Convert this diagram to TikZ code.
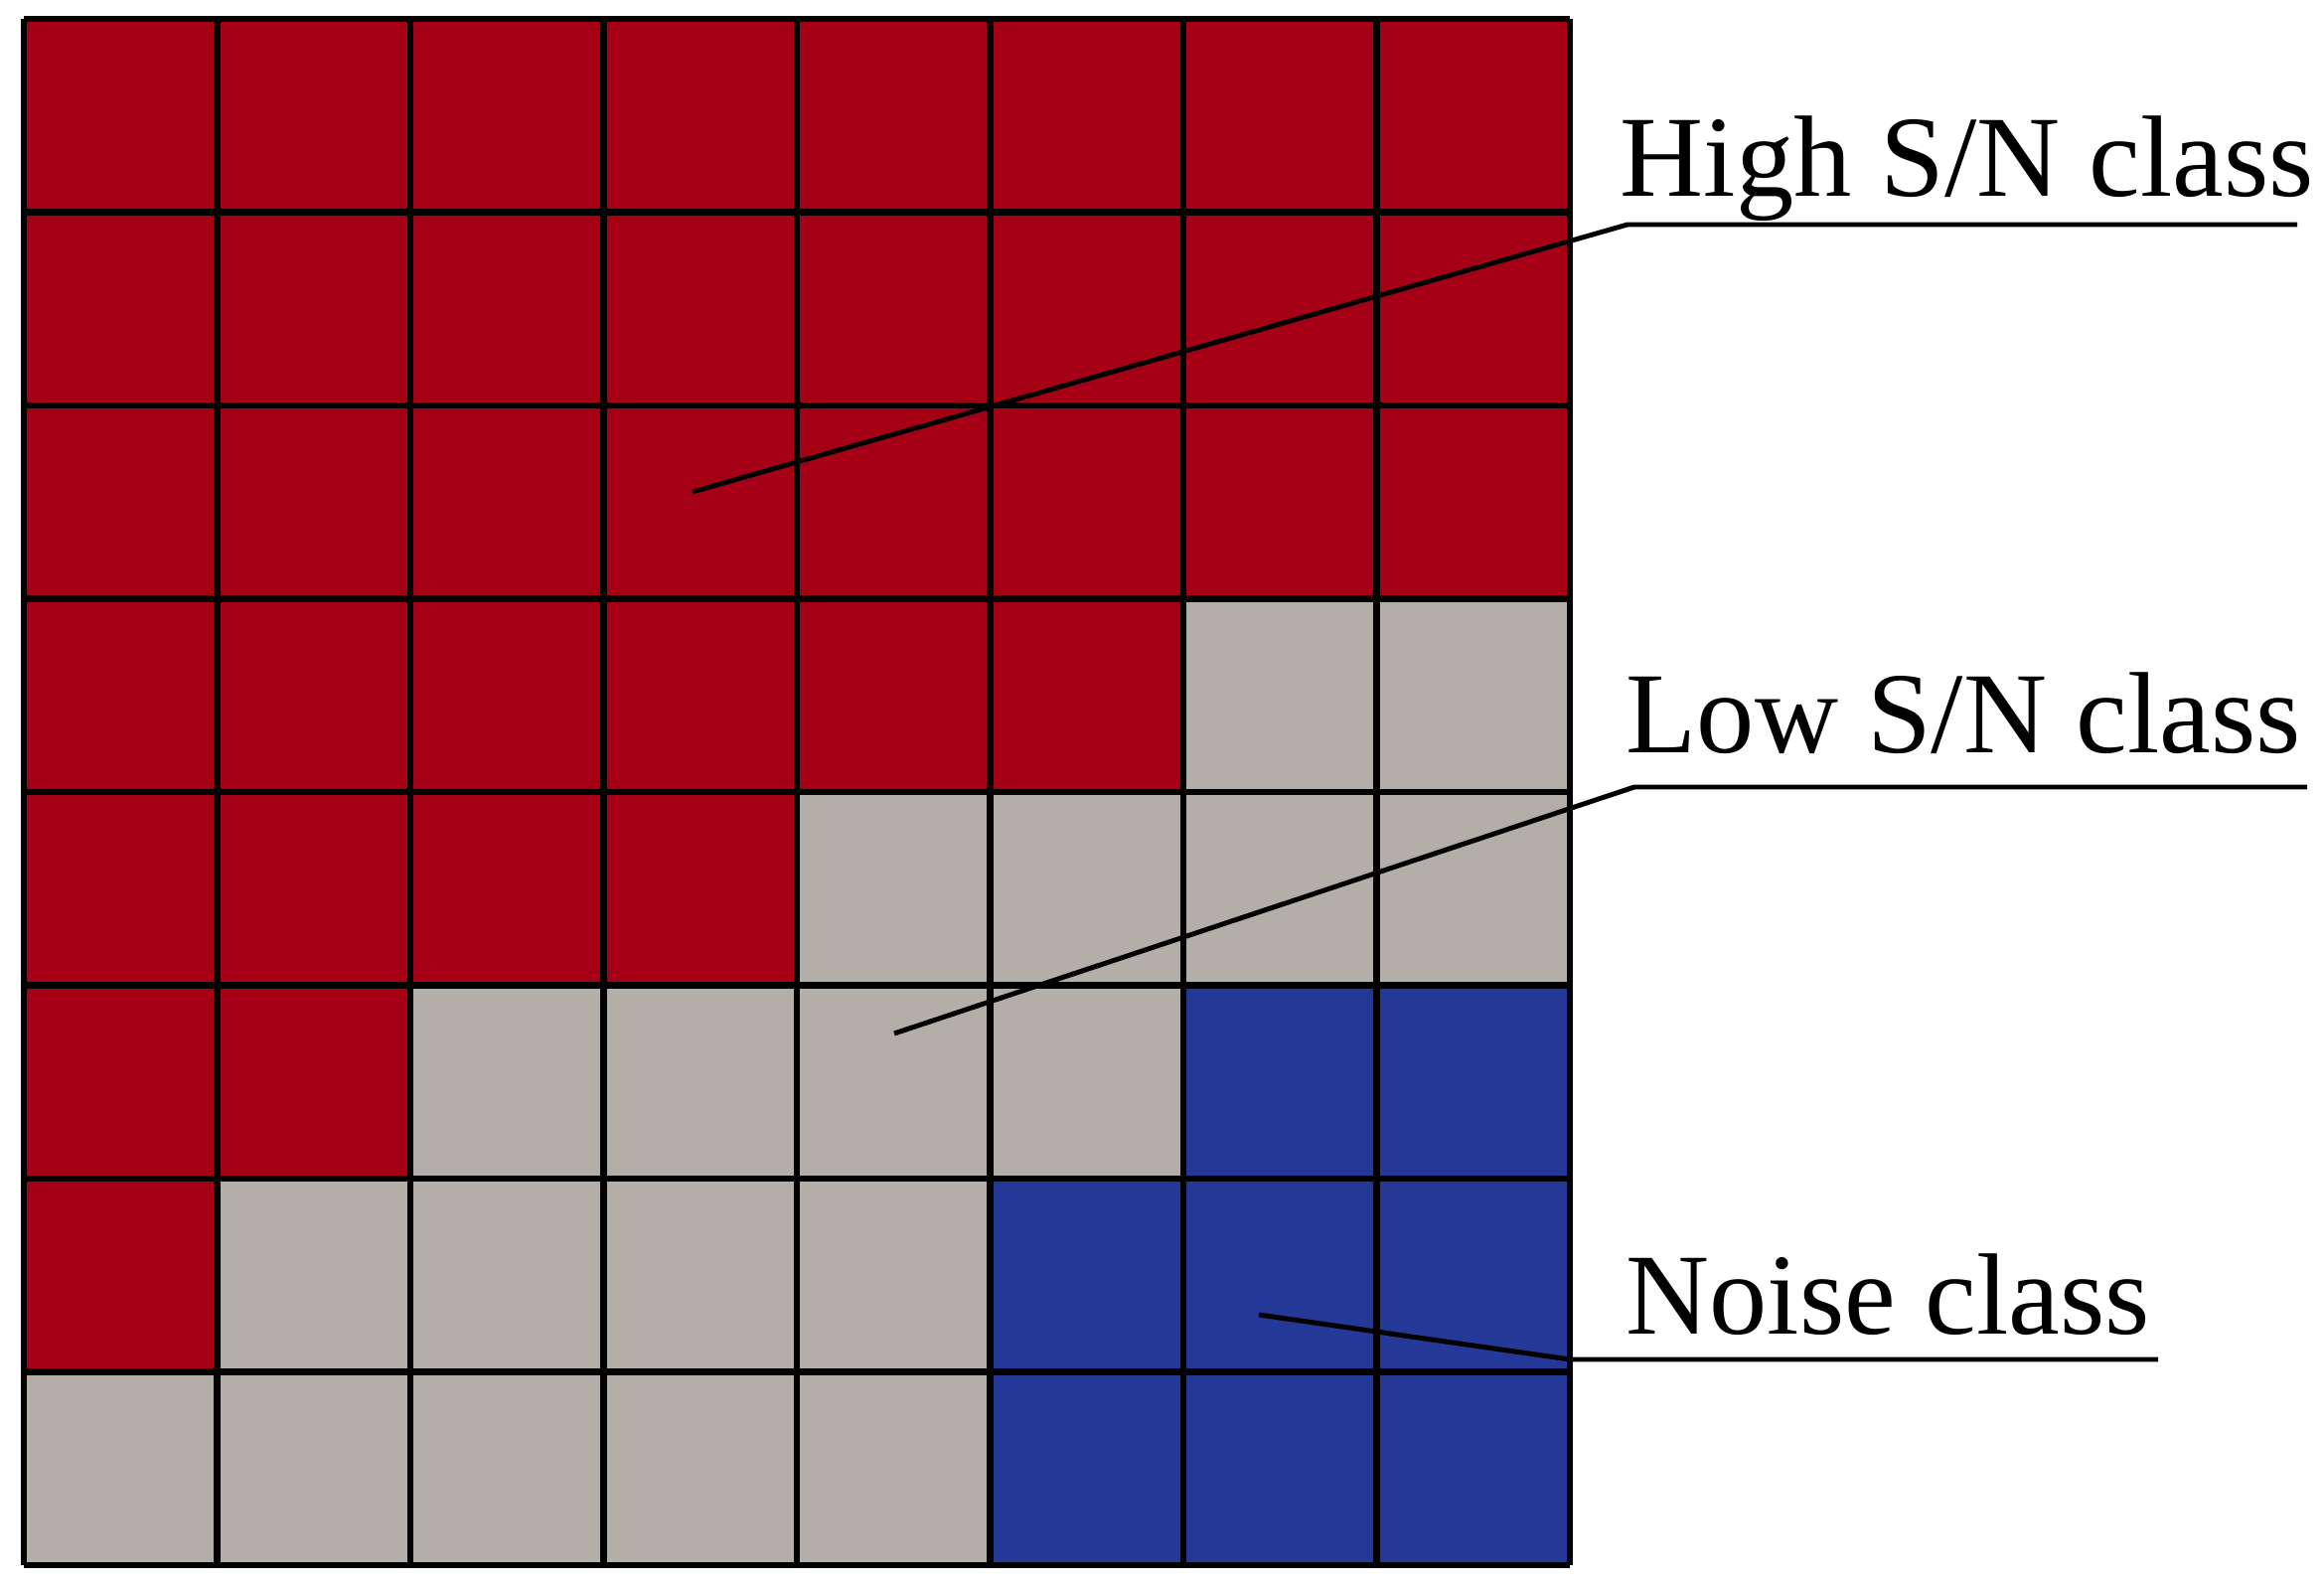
\documentclass[tikz,border=0pt]{standalone}
\usepackage{fontspec}
\setmainfont{Liberation Serif}
\definecolor{hired}{HTML}{A50016}
\definecolor{lowgray}{HTML}{B3AFA8}
\definecolor{noiseblue}{HTML}{243898}
\tikzset{
  gridline/.style={line width=1.8pt, black},
  leader/.style={line width=1.4pt, black},
  classlabel/.style={anchor=base west, inner sep=0pt, font=\fontsize{33.1pt}{36pt}\selectfont}
}
\begin{document}
\begin{tikzpicture}[x=0.01cm,y=-0.01cm]
\useasboundingbox (0,0) rectangle (2339,1598);
\def\cs{194.5}
\foreach \r/\c/\col in {
 0/0/hired,0/1/hired,0/2/hired,0/3/hired,0/4/hired,0/5/hired,0/6/hired,0/7/hired,
 1/0/hired,1/1/hired,1/2/hired,1/3/hired,1/4/hired,1/5/hired,1/6/hired,1/7/hired,
 2/0/hired,2/1/hired,2/2/hired,2/3/hired,2/4/hired,2/5/hired,2/6/hired,2/7/hired,
 3/0/hired,3/1/hired,3/2/hired,3/3/hired,3/4/hired,3/5/hired,3/6/lowgray,3/7/lowgray,
 4/0/hired,4/1/hired,4/2/hired,4/3/hired,4/4/lowgray,4/5/lowgray,4/6/lowgray,4/7/lowgray,
 5/0/hired,5/1/hired,5/2/lowgray,5/3/lowgray,5/4/lowgray,5/5/lowgray,5/6/noiseblue,5/7/noiseblue,
 6/0/hired,6/1/lowgray,6/2/lowgray,6/3/lowgray,6/4/lowgray,6/5/noiseblue,6/6/noiseblue,6/7/noiseblue,
 7/0/lowgray,7/1/lowgray,7/2/lowgray,7/3/lowgray,7/4/lowgray,7/5/noiseblue,7/6/noiseblue,7/7/noiseblue}{
  \fill[\col] ({24+\c*\cs},{19+\r*\cs}) rectangle ({24+(\c+1)*\cs},{19+(\r+1)*\cs});
}
\foreach \k in {0,...,8}{
  \draw[gridline] ({24+\k*\cs},19) -- ({24+\k*\cs},1575);
  \draw[gridline] (24,{19+\k*\cs}) -- (1580,{19+\k*\cs});
}
% labels
\node[classlabel] (ht) at (1630,198) {High S/N class};
\node[classlabel] (lt) at (1636,758) {Low S/N class};
\node[classlabel] (nt) at (1636,1342) {Noise class};
% leaders
\coordinate (hp) at (697,495);
\coordinate (hk) at (1638,226);
\coordinate (he) at (2312,226);
\coordinate (lp) at (900,1040);
\coordinate (lk) at (1645,792);
\coordinate (le) at (2322,792);
\coordinate (np) at (1267,1323);
\coordinate (nk) at (1580,1368);
\coordinate (ne) at (2172,1368);
\draw[leader] (hp) -- (hk) -- (he);
\draw[leader] (lp) -- (lk) -- (le);
\draw[leader] (np) -- (nk) -- (ne);
\end{tikzpicture}
\end{document}
